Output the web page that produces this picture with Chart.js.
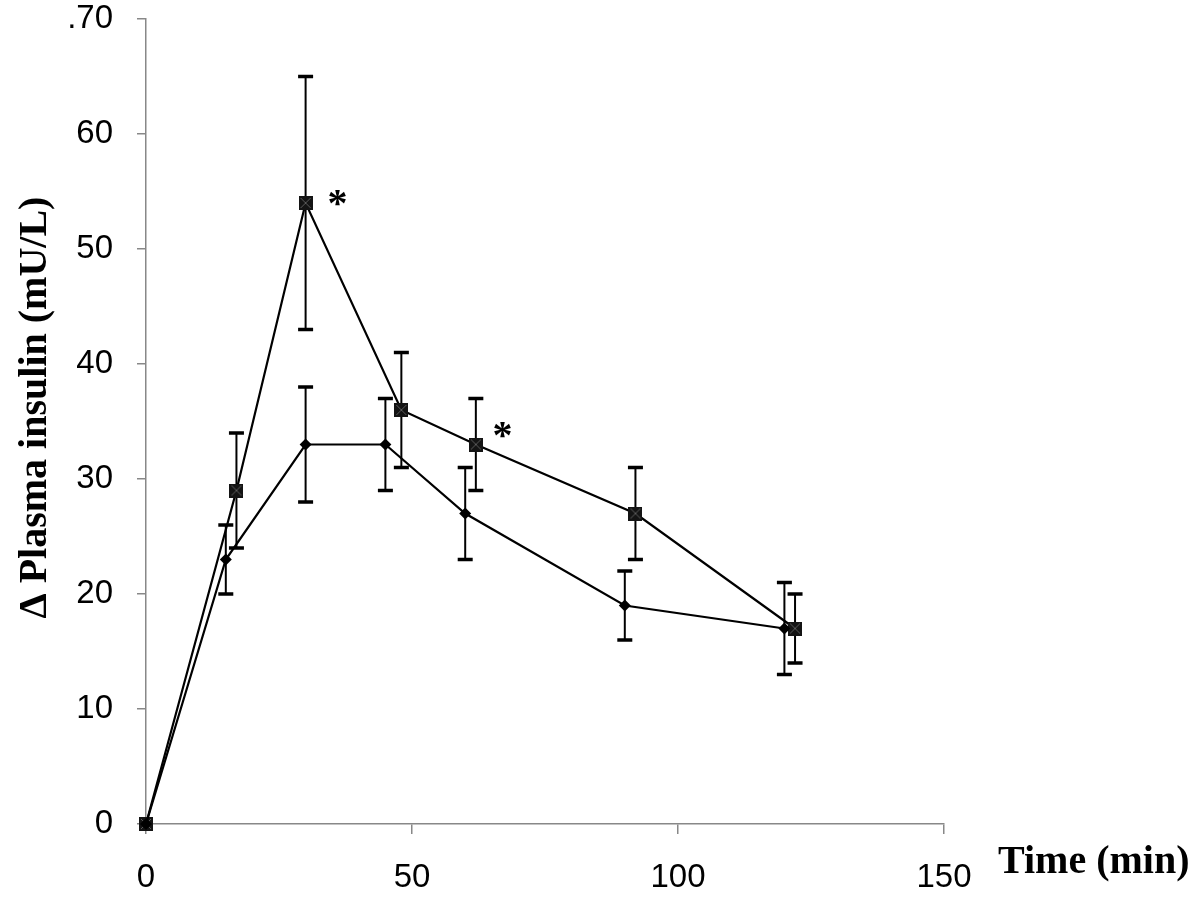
<!DOCTYPE html>
<html>
<head>
<meta charset="utf-8">
<script src="https://cdn.jsdelivr.net/npm/chart.js@4.4.0/dist/chart.umd.min.js"></script>
<style>
  html, body { margin: 0; padding: 0; background: #fff; }
  #wrap { width: 1200px; height: 921px; }
</style>
</head>
<body>
<div id="wrap"><canvas id="insulinChart"></canvas></div>
<script>
// --- Data ---
const timeSquare = [0, 17, 30, 48, 62, 92, 122];
const insulinSquare = [0, 29, 54, 36, 33, 27, 17];
const upperSquare = [0, 34, 65, 41, 37, 31, 20];
const lowerSquare = [0, 24, 43, 31, 29, 23, 14];

const timeDiamond = [0, 15, 30, 45, 60, 90, 120];
const insulinDiamond = [0, 23, 33, 33, 27, 19, 17];
const upperDiamond = [0, 26, 38, 37, 31, 22, 21];
const lowerDiamond = [0, 20, 28, 29, 23, 16, 13];

const yTickLabels = ['0', '10', '20', '30', '40', '50', '60', '.70'];
const xTickLabels = ['0', '50', '100', '150'];

// significance marks (data space)
const starTimes = [36, 67];
const starValues = [54.6, 34.4];

const yTitle = '\u0394 Plasma insulin (mU/L)';
const xTitle = 'Time (min)';

// square marker with a faint cross, like the original
const squareMarker = (() => {
  const c = document.createElement('canvas');
  c.width = 14; c.height = 14;
  const g = c.getContext('2d');
  g.fillStyle = '#141414';
  g.fillRect(0, 0, 14, 14);
  g.strokeStyle = '#5a5a5a';
  g.lineWidth = 1;
  g.beginPath();
  g.moveTo(2, 2); g.lineTo(12, 12);
  g.moveTo(12, 2); g.lineTo(2, 12);
  g.stroke();
  return c;
})();

// --- Error bars drawn through the chart scales ---
const errorBars = {
  id: 'errorBars',
  beforeDatasetsDraw(chart) {
    const { ctx, scales: { x, y } } = chart;
    const sets = [
      { t: timeDiamond, hi: upperDiamond, lo: lowerDiamond },
      { t: timeSquare, hi: upperSquare, lo: lowerSquare }
    ];
    ctx.save();
    ctx.strokeStyle = '#000';
    sets.forEach(s => {
      s.t.forEach((t, i) => {
        if (s.hi[i] === s.lo[i]) return;
        const px = x.getPixelForValue(t);
        const top = y.getPixelForValue(s.hi[i]);
        const bot = y.getPixelForValue(s.lo[i]);
        ctx.lineWidth = 2;
        ctx.beginPath();
        ctx.moveTo(px, top); ctx.lineTo(px, bot);
        ctx.stroke();
        ctx.lineWidth = 3.5;
        ctx.beginPath();
        ctx.moveTo(px - 7.5, top); ctx.lineTo(px + 7.5, top);
        ctx.moveTo(px - 7.5, bot); ctx.lineTo(px + 7.5, bot);
        ctx.stroke();
      });
    });
    ctx.restore();
  }
};

// --- Axis titles and asterisks ---
const labels = {
  id: 'labels',
  afterDraw(chart) {
    const { ctx, chartArea, scales: { x, y } } = chart;
    ctx.save();
    ctx.fillStyle = '#000';
    ctx.font = 'bold 40px "Liberation Serif", "Times New Roman", serif';
    ctx.textBaseline = 'alphabetic';

    // y title, rotated
    ctx.save();
    ctx.translate(46, (chartArea.top + chartArea.bottom) / 2 - 14);
    ctx.rotate(-Math.PI / 2);
    ctx.textAlign = 'center';
    ctx.fillText(yTitle, 0, 0);
    ctx.restore();

    // x title, to the right of the axis
    ctx.textAlign = 'left';
    ctx.fillText(xTitle, chartArea.right + 54, chartArea.bottom + 49);

    // asterisks
    ctx.textAlign = 'center';
    starTimes.forEach((t, i) => {
      ctx.fillText('*', x.getPixelForValue(t), y.getPixelForValue(starValues[i]) + 20);
    });
    ctx.restore();
  }
};

const tickFont = { family: '"Liberation Sans", Arial, sans-serif', size: 33 };

new Chart(document.getElementById('insulinChart'), {
  type: 'line',
  data: {
    datasets: [{
      label: 'Diamond',
      data: timeDiamond.map((t, i) => ({ x: t, y: insulinDiamond[i] })),
      borderColor: '#000',
      borderWidth: 2.2,
      backgroundColor: '#000',
      pointStyle: 'rectRot',
      pointRadius: 6,
      pointBorderWidth: 0,
      tension: 0,
      clip: false
    }, {
      label: 'Square',
      data: timeSquare.map((t, i) => ({ x: t, y: insulinSquare[i] })),
      borderColor: '#000',
      borderWidth: 2.2,
      backgroundColor: '#000',
      pointStyle: squareMarker,
      tension: 0,
      clip: false
    }]
  },
  options: {
    responsive: true,
    maintainAspectRatio: false,
    animation: false,
    devicePixelRatio: 1,
    layout: { padding: { left: 0, right: 256, top: 19, bottom: 0 } },
    plugins: {
      legend: { display: false },
      tooltip: { enabled: false }
    },
    scales: {
      x: {
        type: 'linear',
        min: 0,
        max: 150,
        afterFit: s => { s.height = 97; s.paddingLeft = 0; s.paddingRight = 0; },
        afterBuildTicks: s => { s.ticks = xTickLabels.map(v => ({ value: Number(v) })); },
        ticks: {
          callback: (v, i) => xTickLabels[i],
          color: '#000',
          padding: 24,
          maxRotation: 0,
          font: tickFont
        },
        grid: { drawOnChartArea: false, color: '#888', tickLength: 10, lineWidth: 1.5 },
        border: { color: '#888', width: 1.5 }
      },
      y: {
        type: 'linear',
        min: 0,
        max: 70,
        afterFit: s => { s.width = 146; s.paddingTop = 0; s.paddingBottom = 0; },
        ticks: {
          stepSize: 10,
          callback: (v, i) => yTickLabels[i],
          color: '#000',
          padding: 24,
          font: tickFont
        },
        grid: { drawOnChartArea: false, color: '#888', tickLength: 9, lineWidth: 1.5 },
        border: { color: '#888', width: 1.5 }
      }
    }
  },
  plugins: [errorBars, labels]
});
</script>
</body>
</html>
